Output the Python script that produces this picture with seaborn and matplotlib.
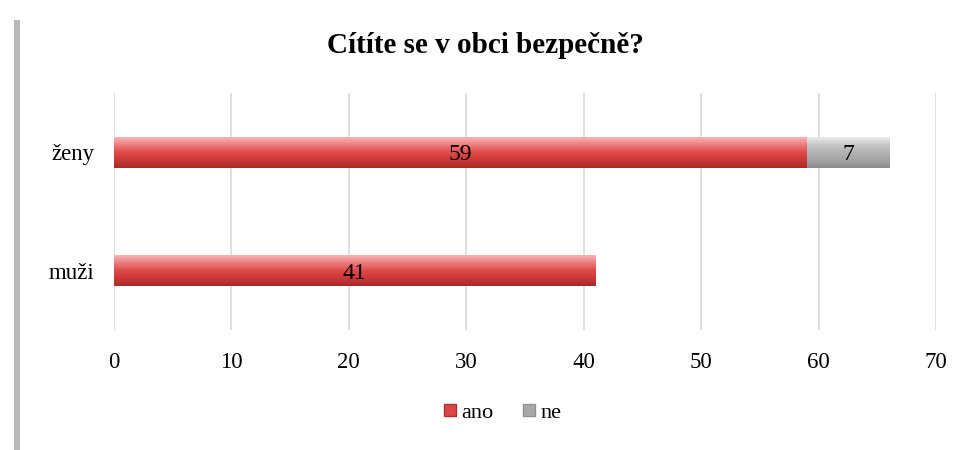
import numpy as np
import pandas as pd
import matplotlib
matplotlib.use("Agg")
import matplotlib.pyplot as plt
import seaborn as sns
from matplotlib.colors import LinearSegmentedColormap
from matplotlib.patches import Rectangle

# data
groups = ["ženy", "muži"]
ano = [59, 41]
ne = [7, 0]
title = "Cítíte se v obci bezpečně?"

df = pd.DataFrame({"skupina": groups, "ano": ano, "ne": ne})
df["celkem"] = df["ano"] + df["ne"]

sns.set_theme(style="white")
plt.rcParams["font.family"] = ["Liberation Serif", "DejaVu Serif"]
plt.rcParams["text.color"] = "black"
plt.rcParams["xtick.color"] = "black"
plt.rcParams["ytick.color"] = "black"

fig = plt.figure(figsize=(9.7, 4.5), dpi=100)
ax = fig.add_axes([0.1175, 0.267, 0.8475, 0.526])

# stacked look: total in grey first, then "ano" in red over it
sns.barplot(data=df, x="celkem", y="skupina", color="#b0b0b0", width=0.26,
            orient="h", ax=ax, edgecolor="none")
sns.barplot(data=df, x="ano", y="skupina", color="#dc4a4a", width=0.26,
            orient="h", ax=ax, edgecolor="none")

red_cm = LinearSegmentedColormap.from_list("r", ["#f7b5b5", "#ee7c7c", "#de4a4a", "#cc3838", "#a82828"])
grey_cm = LinearSegmentedColormap.from_list("g", ["#eaeaea", "#c8c8c8", "#b2b2b2", "#a4a4a4", "#8a8a8a"])
grad = np.linspace(0, 1, 64).reshape(-1, 1)
n = len(groups)
for i, p in enumerate(ax.patches):
    if p.get_width() <= 0:
        continue
    cm = grey_cm if i < n else red_cm
    x0, y0 = p.get_x(), p.get_y()
    w, h = p.get_width(), p.get_height()
    im = ax.imshow(grad, cmap=cm, aspect="auto", extent=[x0, x0 + w, y0 + h, y0],
                   zorder=p.get_zorder() + 0.1 + (0.2 if i >= n else 0), interpolation="bilinear")
    im.set_clip_path(p)

# value labels
for i, g in enumerate(groups):
    ax.text(ano[i] / 2, i + 0.02, str(ano[i]), ha="center", va="center", fontsize=17,
            color="black", zorder=10)
    if ne[i] > 0:
        ax.text(ano[i] + ne[i] / 2, i + 0.02, str(ne[i]), ha="center", va="center", fontsize=17,
                color="black", zorder=10)

ax.set_xlim(0, 70)
ax.set_ylim(1.5, -0.5)
ax.set_xticks(range(0, 71, 10))
ax.xaxis.grid(True, color="#d9d9d9", linewidth=1.2)
ax.set_axisbelow(True)
for s in ax.spines.values():
    s.set_visible(False)
ax.set_xlabel("")
ax.set_ylabel("")
ax.tick_params(axis="x", labelsize=16.5, length=0, pad=16)
ax.tick_params(axis="y", labelsize=16.5, length=0, pad=14)

fig.text(0.5, 0.898, title, ha="center", va="center", fontsize=21, fontweight="bold",
         color="black")

# legend
h1 = plt.Line2D([], [], marker="s", linestyle="none", markersize=8,
                markerfacecolor="#d94848", markeredgecolor="#b03030")
h2 = plt.Line2D([], [], marker="s", linestyle="none", markersize=8,
                markerfacecolor="#a8a8a8", markeredgecolor="#909090")
fig.legend([h1, h2], ["ano", "ne"], loc="center", bbox_to_anchor=(0.517, 0.083),
           ncol=2, frameon=False, fontsize=16, handletextpad=0.1, columnspacing=1.2,
           handlelength=0.8)

# left shadow border
fig.patches.append(Rectangle((14 / 970, 0), 6 / 970, 430 / 450, transform=fig.transFigure,
                             facecolor="#b8b8b8", edgecolor="none"))

fig.savefig("out.png", dpi=100)
